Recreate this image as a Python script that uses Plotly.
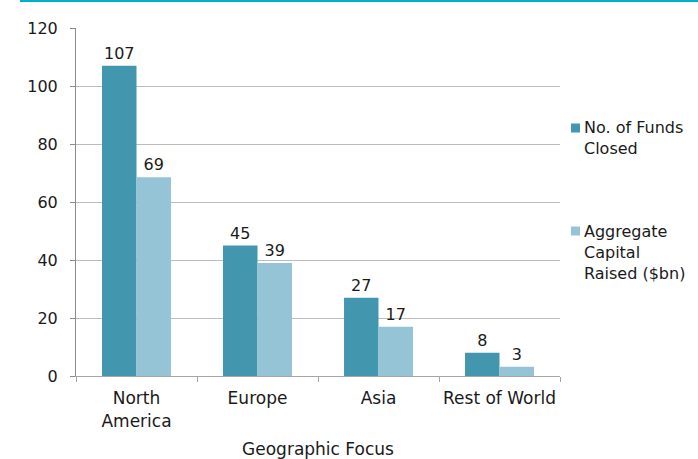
import plotly.graph_objects as go

categories = ["North<br>America", "Europe", "Asia", "Rest of World"]
funds_closed = [107, 45, 27, 8]
capital_raised = [68.5, 39, 17, 3.2]
series_names = ["No. of Funds<br>Closed", "Aggregate<br>Capital<br>Raised ($bn)"]
y_ticks = [0, 20, 40, 60, 80, 100, 120]

DARK = "#4297AF"
LIGHT = "#94C4D6"
FONT = "DejaVu Sans"
TXT = "#1a1a1a"
FS = 16
FSX = 17

# plot area in pixels: x 76..560, y 28..376
L, R, T, B = 76, 560, 28, 376
PW, PH = R - L, B - T

def px_x(x):
    return (x - L) / PW

def px_y(y):
    return (B - y) / PH

fig = go.Figure()
colors = [DARK, LIGHT]
for vals, name, col in zip([funds_closed, capital_raised], series_names, colors):
    fig.add_trace(go.Bar(
        x=categories, y=vals, name=name, marker_color=col,
        marker_line_width=0, texttemplate="%{y:.0f}", textposition="outside",
        textfont=dict(family=FONT, size=FS, color=TXT), cliponaxis=False,
        showlegend=False,
    ))

# manual legend (square + text) to the right of the plot
legend_centers = [128, 231]   # first-line centre (px)
legend_blocks = [138, 252]    # block centre (px)
shapes = [dict(type="line", xref="paper", yref="paper",
               x0=px_x(20), x1=px_x(698), y0=px_y(1), y1=px_y(1),
               line=dict(color="#00B0C8", width=2))]
annotations = []
for name, col, c1, cb in zip(series_names, colors, legend_centers, legend_blocks):
    shapes.append(dict(type="rect", xref="paper", yref="paper",
                       x0=px_x(571), x1=px_x(580), y0=px_y(c1 - 4.5), y1=px_y(c1 + 4.5),
                       fillcolor=col, line=dict(width=0)))
    annotations.append(dict(text=name, xref="paper", yref="paper",
                            x=px_x(582), y=px_y(cb), xanchor="left", yanchor="middle",
                            align="left", showarrow=False,
                            font=dict(family=FONT, size=FS, color=TXT)))

fig.update_layout(
    width=698, height=459,
    margin=dict(l=L, r=698 - R, t=T, b=459 - B),
    paper_bgcolor="white", plot_bgcolor="white",
    barmode="group", bargap=0.43, bargroupgap=0,
    font=dict(family=FONT, size=FS, color=TXT),
    showlegend=False,
    xaxis=dict(
        title=dict(text="Geographic Focus", font=dict(family=FONT, size=FSX, color=TXT), standoff=16),
        showline=True, linecolor="#a6a6a6", linewidth=1,
        ticks="outside", ticklen=5, tickcolor="#a6a6a6", tickson="boundaries",
        tickfont=dict(family=FONT, size=FSX, color=TXT), tickangle=0,
        ticklabelstandoff=7,
        showgrid=False, automargin=False,
    ),
    yaxis=dict(
        range=[0, 120], tickvals=y_ticks, ticktext=[str(v) for v in y_ticks],
        showline=True, linecolor="#8c8c8c", linewidth=1,
        ticks="outside", ticklen=5, tickcolor="#8c8c8c",
        showgrid=True, gridcolor="#bcbcbc", gridwidth=1,
        zeroline=False, ticklabelstandoff=9,
        tickfont=dict(family=FONT, size=FS, color=TXT),
        automargin=False,
    ),
    shapes=shapes,
    annotations=annotations,
)

fig.write_html("out.html")
